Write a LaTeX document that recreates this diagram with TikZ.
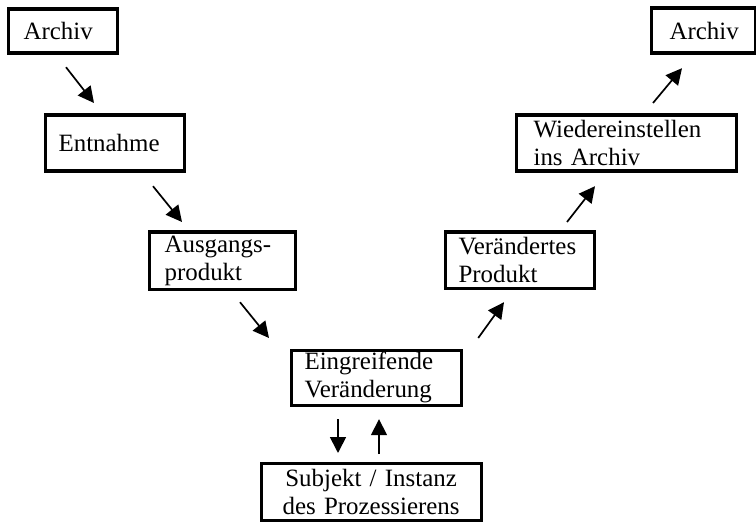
\documentclass[tikz,border=0pt]{standalone}
\usepackage{fontspec}
\setmainfont{Liberation Serif}
\usetikzlibrary{arrows.meta,calc}
\begin{document}
\begin{tikzpicture}[x=1bp,y=-1bp,
  box/.style={draw,line width=3.2bp,rectangle,anchor=north west,
    align=left,inner ysep=0pt,font=\fontsize{25}{28}\selectfont},
  arr/.style={line width=1.7bp,-{Triangle[length=16bp,width=16bp]}}]
\useasboundingbox (0,0) rectangle (756,522);
% stages of the archive cycle
\node[box,inner xsep=15.5bp,text width=78bp,minimum height=44bp] (archivL) at (6.5,7.5) {Archiv};
\node[box,inner xsep=13.5bp,text width=112bp,minimum height=56bp] (entnahme) at (43.5,113.5) {Entnahme};
\node[box,inner xsep=15.5bp,text width=115bp,minimum height=57bp] (ausgang) at (147.5,230.5) {Ausgangs-\\produkt};
\node[box,inner xsep=13.5bp,text width=143bp,minimum height=55bp] (eingriff) at (289.5,348.5) {Eingreifende\\Veränderung};
\node[box,inner xsep=10bp,text width=200bp,minimum height=57bp,align=center] (subjekt) at (259.5,461.5) {Subjekt / Instanz\\des Prozessierens};
\node[box,inner xsep=13.5bp,text width=122bp,minimum height=56bp] (produkt) at (443.5,230.5) {Verändertes\\Produkt};
\node[box,inner xsep=17.5bp,text width=185bp,minimum height=56bp] (wieder) at (514.5,113.5) {Wiedereinstellen\\ins Archiv};
\node[box,inner xsep=18.5bp,text width=67bp,minimum height=45bp] (archivR) at (649.5,6.5) {Archiv};
% connectors
\draw[arr] ($(archivL.south west)+(59.5,12.5)$) -- ($(entnahme.north west)+(50.5,-10.5)$);
\draw[arr] ($(entnahme.south west)+(109.5,13.5)$) -- ($(ausgang.north west)+(34.5,-8.5)$);
\draw[arr] ($(ausgang.south west)+(92.5,11.5)$) -- ($(eingriff.north west)+(-20.5,-10.5)$);
\draw[arr] ($(eingriff.south west)+(48.5,12.5)$) -- ($(subjekt.north west)+(78.5,-8.5)$);
\draw[arr] ($(subjekt.north west)+(119.5,-7.5)$) -- ($(eingriff.south west)+(89.5,12.5)$);
\draw[arr] ($(eingriff.north east)+(15.5,-10.5)$) -- ($(produkt.south west)+(60.5,12.5)$);
\draw[arr] ($(produkt.north west)+(123.5,-8.5)$) -- ($(wieder.south west)+(80.5,13.5)$);
\draw[arr] ($(wieder.north west)+(138.5,-10.5)$) -- ($(archivR.south west)+(32.5,13.5)$);
\end{tikzpicture}
\end{document}
